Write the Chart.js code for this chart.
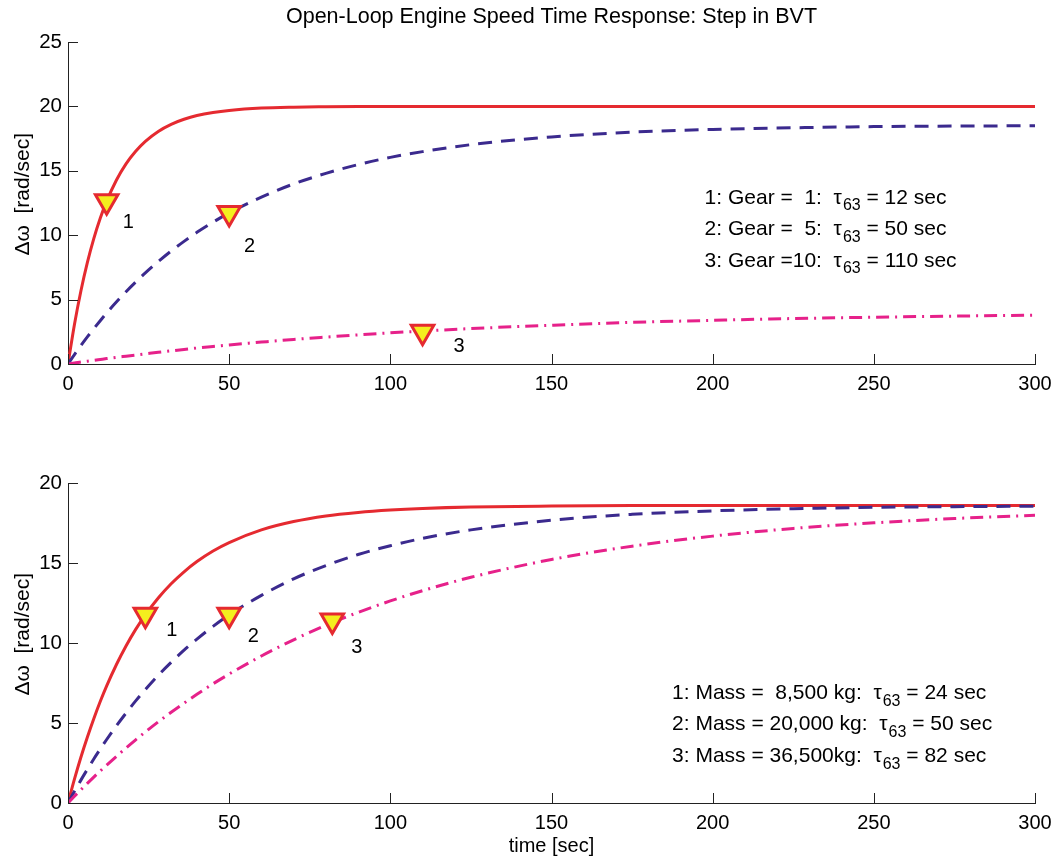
<!DOCTYPE html>
<html lang="en">
<head>
<meta charset="UTF-8">
<title>Open-Loop Engine Speed Time Response</title>
<script src="https://cdn.jsdelivr.net/npm/chart.js"></script>
<style>
    body { margin: 0; background: #fff; }
    #wrap { position: relative; width: 1060px; height: 863px; }
    .pane { position: absolute; left: 0; width: 1060px; }
    #paneTop { top: 0; height: 430px; }
    #paneBot { top: 430px; height: 433px; }
</style>
</head>
<body>
<div id="wrap">
    <div class="pane" id="paneTop"><canvas id="chartTop" width="1060" height="430"></canvas></div>
    <div class="pane" id="paneBot"><canvas id="chartBot" width="1060" height="433"></canvas></div>
</div>

<script>
// sample times [sec]
const time = [0, 2, 4, 6, 8, 10, 12, 15, 18, 21, 24, 28, 32, 36, 40, 45, 50,
              60, 70, 80, 90, 100, 110, 125, 150, 175, 200, 225, 250, 275, 300];

// top plot: gear cases
const gear1 = [0, 3.07, 5.67, 7.87, 9.73, 11.31, 12.64, 14.27, 15.54, 16.52, 17.29, 18.06, 18.61, 19.00, 19.29, 19.53, 19.69,
               19.87, 19.94, 19.97, 19.99, 20, 20, 20, 20, 20, 20, 20, 20, 20, 20];
const gear5 = [0, 0.73, 1.43, 2.10, 2.74, 3.36, 3.96, 4.81, 5.61, 6.36, 7.07, 7.95, 8.77, 9.52, 10.22, 11.01, 11.73,
               12.96, 13.98, 14.80, 15.48, 16.04, 16.49, 17.03, 17.63, 18.00, 18.21, 18.34, 18.43, 18.47, 18.50];
const gear10 = [0, 0.07, 0.15, 0.22, 0.28, 0.35, 0.42, 0.52, 0.61, 0.70, 0.79, 0.91, 1.02, 1.13, 1.24, 1.36, 1.48,
                1.70, 1.91, 2.09, 2.26, 2.42, 2.56, 2.75, 3.01, 3.23, 3.39, 3.53, 3.63, 3.72, 3.79];

// bottom plot: vehicle mass cases
const mass8500 = [0, 1.49, 2.86, 4.11, 5.27, 6.34, 7.32, 8.64, 9.81, 10.85, 11.76, 12.81, 13.70, 14.45, 15.09, 15.75, 16.28,
                  17.07, 17.59, 17.94, 18.16, 18.31, 18.41, 18.50, 18.56, 18.59, 18.60, 18.60, 18.60, 18.60, 18.60];
const mass20000 = [0, 0.73, 1.43, 2.10, 2.75, 3.37, 3.97, 4.82, 5.62, 6.38, 7.09, 7.98, 8.79, 9.55, 10.24, 11.04, 11.76,
                   12.98, 14.01, 14.84, 15.53, 16.08, 16.54, 17.07, 17.67, 18.04, 18.26, 18.39, 18.48, 18.52, 18.55];
const mass36500 = [0, 0.42, 0.83, 1.23, 1.62, 2.00, 2.37, 2.91, 3.44, 3.95, 4.44, 5.07, 5.67, 6.24, 6.79, 7.45, 8.06,
                   9.19, 10.20, 11.11, 11.91, 12.63, 13.27, 14.11, 15.22, 16.05, 16.68, 17.16, 17.51, 17.78, 17.98];

// tau63 markers
const tauTop = [12, 50, 110];
const tauTopVal = [12.64, 11.73, 2.5];
const tauBot = [24, 50, 82];
const tauBotVal = [11.76, 11.76, 11.4];

// legend text
const topRows = [['1: Gear =  1:  ', ' = 12 sec'], ['2: Gear =  5:  ', ' = 50 sec'], ['3: Gear =10:  ', ' = 110 sec']];
const botRows = [['1: Mass =  8,500 kg:  ', ' = 24 sec'], ['2: Mass = 20,000 kg:  ', ' = 50 sec'], ['3: Mass = 36,500kg:  ', ' = 82 sec']];

const xTicks = [0, 50, 100, 150, 200, 250, 300];

const FONT = '"Liberation Sans", Arial, Helvetica, sans-serif';
const RED = '#e52a30';
const BLUE = '#3b2a8e';
const PINK = '#e6218a';
const AXIS = '#222';

function pts(xs, ys) {
    return xs.map((t, i) => ({ x: t, y: ys[i] }));
}

// MATLAB style ticks pointing into the axes
const inwardTicks = {
    id: 'inwardTicks',
    afterDatasetsDraw(chart) {
        const { ctx, chartArea: a, scales: { x, y } } = chart;
        ctx.save();
        ctx.strokeStyle = AXIS;
        ctx.lineWidth = 1;
        ctx.beginPath();
        x.ticks.forEach(t => {
            const px = Math.round(x.getPixelForValue(t.value)) + 0.5;
            ctx.moveTo(px, a.bottom);
            ctx.lineTo(px, a.bottom - 10);
        });
        y.ticks.forEach(t => {
            const py = Math.round(y.getPixelForValue(t.value)) + 0.5;
            ctx.moveTo(a.left, py);
            ctx.lineTo(a.left + 10, py);
        });
        ctx.stroke();
        ctx.restore();
    }
};

// title, curve numbers and tau63 text
const notes = {
    id: 'notes',
    afterDraw(chart, args, opts) {
        const { ctx, chartArea: a, scales: { x, y } } = chart;
        ctx.save();
        ctx.fillStyle = '#000';
        ctx.textBaseline = 'middle';
        if (opts.title) {
            ctx.font = '21.5px ' + FONT;
            ctx.textAlign = 'center';
            ctx.fillText(opts.title, (a.left + a.right) / 2, 17);
        }
        ctx.font = '20px ' + FONT;
        ctx.textAlign = 'center';
        opts.nums.forEach((n, i) => {
            ctx.fillText(String(i + 1), x.getPixelForValue(n[0]), y.getPixelForValue(n[1]));
        });
        ctx.textAlign = 'left';
        opts.rows.forEach((r, i) => {
            let px = x.getPixelForValue(opts.rowX);
            const py = y.getPixelForValue(opts.rowY[i]);
            ctx.font = '21px ' + FONT;
            ctx.fillText(r[0], px, py);
            px += ctx.measureText(r[0]).width;
            ctx.fillText('\u03c4', px, py);
            px += ctx.measureText('\u03c4').width + 1;
            ctx.font = '16px ' + FONT;
            ctx.fillText('63', px, py + 8);
            px += ctx.measureText('63').width;
            ctx.font = '21px ' + FONT;
            ctx.fillText(r[1], px, py);
        });
        ctx.restore();
    }
};

function makeChart(id, series, tauT, tauV, yMax, xHeight, padTop, xTitle, noteOpts) {
    const datasets = [
        { data: pts(time, series[0]), borderColor: RED, borderWidth: 3, order: 3 },
        { data: pts(time, series[1]), borderColor: BLUE, borderWidth: 3, borderDash: [14, 9], order: 2 },
        { data: pts(time, series[2]), borderColor: PINK, borderWidth: 3, borderDash: [13, 6, 2, 6], order: 1 },
        {
            data: pts(tauT, tauV), showLine: false, order: 0,
            pointStyle: 'triangle', rotation: 180, pointRadius: 13,
            backgroundColor: '#f4ee1e', borderColor: RED, pointBorderWidth: 3
        }
    ];
    datasets.slice(0, 3).forEach(d => {
        d.pointRadius = 0;
        d.fill = false;
        d.cubicInterpolationMode = 'monotone';
    });

    return new Chart(document.getElementById(id), {
        type: 'line',
        data: { datasets },
        options: {
            responsive: false,
            animation: false,
            devicePixelRatio: 1,
            layout: { padding: { top: padTop, right: 25, left: 0, bottom: 0 } },
            plugins: {
                legend: { display: false },
                tooltip: { enabled: false },
                notes: noteOpts
            },
            scales: {
                x: {
                    type: 'linear', min: 0, max: 300,
                    afterBuildTicks: s => { s.ticks = xTicks.map(v => ({ value: v })); },
                    grid: { drawOnChartArea: false, drawTicks: false },
                    border: { display: true, color: AXIS, width: 1 },
                    ticks: { color: '#000', padding: 8, maxRotation: 0, font: { family: FONT, size: 20 } },
                    title: {
                        display: !!xTitle, text: xTitle || '', color: '#000',
                        padding: { top: 0, bottom: 5 }, font: { family: FONT, size: 20 }
                    },
                    afterFit: s => { s.height = xHeight; }
                },
                y: {
                    min: 0, max: yMax,
                    ticks: { stepSize: 5, color: '#000', padding: 6, font: { family: FONT, size: 20.5 } },
                    grid: { drawOnChartArea: false, drawTicks: false },
                    border: { display: true, color: AXIS, width: 1 },
                    title: {
                        display: true, text: '   \u0394\u03c9  [rad/sec]', color: '#000',
                        padding: { top: 11, bottom: 0 }, font: { family: FONT, size: 21 }
                    },
                    afterFit: s => { s.width = 68; }
                }
            }
        },
        plugins: [inwardTicks, notes]
    });
}

makeChart('chartTop', [gear1, gear5, gear10], tauTop, tauTopVal, 25, 66, 42, null, {
    title: 'Open-Loop Engine Speed Time Response: Step in BVT',
    nums: [[18.7, 11.0], [56.3, 9.1], [121.3, 1.35]],
    rows: topRows, rowX: 197.5, rowY: [12.9, 10.45, 8.0]
});

makeChart('chartBot', [mass8500, mass20000, mass36500], tauBot, tauBotVal, 20, 60, 53, 'time [sec]', {
    title: null,
    nums: [[32.2, 10.78], [57.5, 10.42], [89.6, 9.74]],
    rows: botRows, rowX: 187.4, rowY: [6.85, 4.92, 2.93]
});
</script>
</body>
</html>
